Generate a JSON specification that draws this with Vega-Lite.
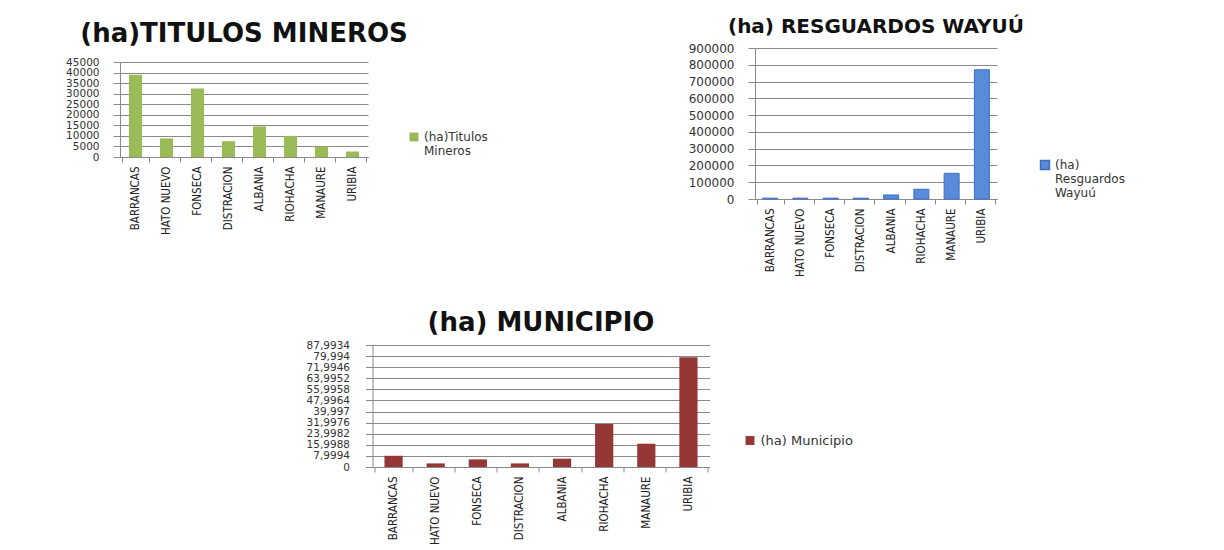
{
  "$schema": "https://vega.github.io/schema/vega-lite/v6.json",
  "background": "white",
  "padding": {"left": 65, "top": 17, "right": 5, "bottom": 0},
  "datasets": {
    "mineros": [
      {"municipio": "BARRANCAS", "ha": 39000, "serie": "(ha)Titulos Mineros"},
      {"municipio": "HATO NUEVO", "ha": 8800, "serie": "(ha)Titulos Mineros"},
      {"municipio": "FONSECA", "ha": 32500, "serie": "(ha)Titulos Mineros"},
      {"municipio": "DISTRACION", "ha": 7500, "serie": "(ha)Titulos Mineros"},
      {"municipio": "ALBANIA", "ha": 14500, "serie": "(ha)Titulos Mineros"},
      {"municipio": "RIOHACHA", "ha": 10000, "serie": "(ha)Titulos Mineros"},
      {"municipio": "MANAURE", "ha": 5000, "serie": "(ha)Titulos Mineros"},
      {"municipio": "URIBIA", "ha": 2600, "serie": "(ha)Titulos Mineros"}
    ],
    "resguardos": [
      {"municipio": "BARRANCAS", "ha": 5000, "serie": "(ha) Resguardos Wayuú"},
      {"municipio": "HATO NUEVO", "ha": 5000, "serie": "(ha) Resguardos Wayuú"},
      {"municipio": "FONSECA", "ha": 5000, "serie": "(ha) Resguardos Wayuú"},
      {"municipio": "DISTRACION", "ha": 5000, "serie": "(ha) Resguardos Wayuú"},
      {"municipio": "ALBANIA", "ha": 24000, "serie": "(ha) Resguardos Wayuú"},
      {"municipio": "RIOHACHA", "ha": 58000, "serie": "(ha) Resguardos Wayuú"},
      {"municipio": "MANAURE", "ha": 153000, "serie": "(ha) Resguardos Wayuú"},
      {"municipio": "URIBIA", "ha": 770000, "serie": "(ha) Resguardos Wayuú"}
    ],
    "municipio": [
      {"municipio": "BARRANCAS", "ha": 8.1, "serie": "(ha) Municipio"},
      {"municipio": "HATO NUEVO", "ha": 2.6, "serie": "(ha) Municipio"},
      {"municipio": "FONSECA", "ha": 5.5, "serie": "(ha) Municipio"},
      {"municipio": "DISTRACION", "ha": 2.6, "serie": "(ha) Municipio"},
      {"municipio": "ALBANIA", "ha": 6.0, "serie": "(ha) Municipio"},
      {"municipio": "RIOHACHA", "ha": 31.0, "serie": "(ha) Municipio"},
      {"municipio": "MANAURE", "ha": 16.8, "serie": "(ha) Municipio"},
      {"municipio": "URIBIA", "ha": 79.2, "serie": "(ha) Municipio"}
    ]
  },
  "vconcat": [
    {
      "hconcat": [
        {
          "title": {"text": "(ha)TITULOS MINEROS", "fontSize": 26, "offset": 1},
          "width": 248,
          "height": 109,
          "data": {"name": "mineros"},
          "mark": {"type": "bar", "width": {"band": 0.47}},
          "encoding": {
            "x": {"field": "municipio", "type": "nominal", "sort": null, "title": null},
            "y": {"field": "ha", "type": "quantitative", "title": null,
                  "scale": {"domain": [0, 45000], "range": [109, 14]},
                  "axis": {"values": [0, 5000, 10000, 15000, 20000, 25000, 30000, 35000, 40000, 45000], "format": "d", "labelFontSize": 10.5}},
            "color": {"field": "serie", "type": "nominal", "scale": {"range": ["#9BBB59"]},
                      "legend": {"offset": 40, "labelExpr": "['(ha)Titulos', 'Mineros']"}}
          }
        },
        {
          "title": {"text": "(ha)  RESGUARDOS WAYUÚ", "fontSize": 20, "offset": 5},
          "width": 242,
          "height": 151,
          "data": {"name": "resguardos"},
          "mark": {"type": "bar", "width": {"band": 0.55}, "stroke": "#3A6FC4", "strokeWidth": 1,
                   "color": {"gradient": "linear", "x1": 0, "y1": 0, "x2": 0, "y2": 1,
                             "stops": [{"offset": 0, "color": "#A9C0E6"}, {"offset": 1, "color": "#3C7EE6"}]}},
          "encoding": {
            "x": {"field": "municipio", "type": "nominal", "sort": null, "title": null},
            "y": {"field": "ha", "type": "quantitative", "title": null,
                  "scale": {"domain": [0, 900000]},
                  "axis": {"values": [0, 100000, 200000, 300000, 400000, 500000, 600000, 700000, 800000, 900000], "format": "d", "labelFontSize": 12}},
            "color": {"field": "serie", "type": "nominal", "scale": {"range": ["#5A8BDA"]},
                      "legend": {"offset": 42, "labelExpr": "['(ha)', 'Resguardos', 'Wayuú']"}}
          }
        }
      ],
      "spacing": 200,
      "resolve": {"scale": {"color": "independent"}, "legend": {"color": "independent"}}
    },
    {
      "title": {"text": "(ha) MUNICIPIO", "fontSize": 26, "offset": 4},
      "width": 337,
      "height": 122,
      "data": {"name": "municipio"},
      "mark": {"type": "bar", "width": {"band": 0.48}},
      "encoding": {
        "x": {"field": "municipio", "type": "nominal", "sort": null, "title": null},
        "y": {"field": "ha", "type": "quantitative", "title": null,
              "scale": {"domain": [0, 87.9934]},
              "axis": {"values": [0, 7.9994, 15.9988, 23.9982, 31.9976, 39.997, 47.9964, 55.9958, 63.9952, 71.9946, 79.994, 87.9934],
                       "labelExpr": "replace(toString(datum.value), '.', ',')", "labelFontSize": 10.5, "labelPadding": 16}},
        "color": {"field": "serie", "type": "nominal", "scale": {"range": ["#953735"]},
                  "legend": {"offset": 15, "padding": 19, "labelFontSize": 13}}
      }
    }
  ],
  "center": true,
  "spacing": 33,
  "resolve": {"scale": {"color": "independent"}, "legend": {"color": "independent"}},
  "config": {
    "font": "DejaVu Sans",
    "view": {"stroke": null},
    "title": {"font": "DejaVu Sans", "fontWeight": "bold", "color": "#111", "anchor": "middle"},
    "axis": {"domainColor": "#8a8a8a", "tickColor": "#8a8a8a", "gridColor": "#8a8a8a", "gridOpacity": 1, "labelColor": "#333", "labelOverlap": false},
    "axisY": {"grid": true, "labelFont": "DejaVu Sans", "tickSize": 7, "labelPadding": 14},
    "axisX": {"grid": false, "labelAngle": -90, "labelFont": "DejaVu Sans Condensed, Liberation Sans", "labelFontSize": 11.5, "tickBand": "extent", "tickSize": 5, "labelPadding": 4, "labelColor": "#222"},
    "legend": {"title": null, "labelFont": "DejaVu Sans", "labelFontSize": 12, "labelColor": "#333", "symbolType": "square", "symbolSize": 80, "symbolOpacity": 1, "labelLimit": 300,
               "layout": {"right": {"anchor": "end", "bounds": "flush"}}}
  }
}
